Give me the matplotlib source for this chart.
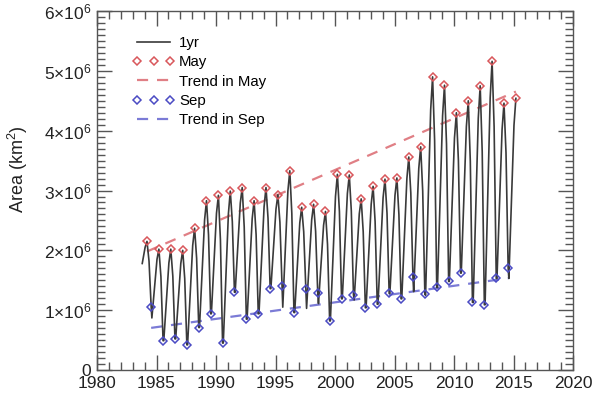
import numpy as np
import matplotlib.pyplot as plt
from matplotlib.ticker import MultipleLocator, FuncFormatter

plt.rcParams['font.family'] = ['Liberation Sans', 'DejaVu Sans']
plt.rcParams['mathtext.fontset'] = 'custom'
plt.rcParams['mathtext.rm'] = 'Liberation Sans'
plt.rcParams['mathtext.it'] = 'Liberation Sans:italic'

# areas in units of 1e6 km^2
may_years = list(range(1984, 2016))
may_area = [2.15, 2.02, 2.02, 2.00, 2.37, 2.83, 2.92, 2.99, 3.05, 2.83,
            3.05, 2.93, 3.33, 2.72, 2.77, 2.65, 3.27, 3.26, 2.86, 3.07,
            3.19, 3.21, 3.56, 3.73, 4.90, 4.76, 4.30, 4.50, 4.75, 5.16,
            4.46, 4.54]
sep_years = list(range(1984, 2015))
sep_area = [1.06, 0.49, 0.52, 0.42, 0.71, 0.94, 0.45, 1.30, 0.85, 0.94,
            1.36, 1.40, 0.96, 1.36, 1.28, 0.82, 1.19, 1.26, 1.04, 1.10,
            1.28, 1.19, 1.55, 1.27, 1.38, 1.48, 1.62, 1.13, 1.09, 1.53,
            1.71]
# lowest point of the monthly curve just after Sep
oct_area = [0.87, 0.49, 0.52, 0.42, 0.71, 0.94, 0.45, 1.30, 0.85, 0.94,
            1.36, 1.05, 0.96, 1.03, 1.11, 0.82, 1.19, 1.17, 1.04, 1.10,
            1.28, 1.19, 1.31, 1.25, 1.38, 1.48, 1.62, 1.13, 1.09, 1.53,
            1.53]
# shoulders of the monthly curve (Mar before the peak, Jul after it)
mar_area = [2.05, 1.85, 1.79, 1.78, 2.08, 2.51, 2.62, 2.61, 2.79, 2.53,
            2.73, 2.69, 2.99, 2.46, 2.51, 2.42, 2.90, 2.95, 2.61, 2.77,
            2.88, 2.92, 3.20, 3.37, 4.35, 4.25, 3.88, 4.07, 4.21, 4.55,
            4.02, 4.09]
jul_area = [1.82, 1.56, 1.57, 1.53, 1.87, 2.26, 2.18, 2.48, 2.39, 2.26,
            2.54, 2.47, 2.62, 2.31, 2.32, 2.10, 2.65, 2.66, 2.31, 2.48,
            2.62, 2.60, 2.96, 2.99, 3.84, 3.78, 3.50, 3.49, 3.65, 4.07,
            3.63]
start_area = 1.78

# where the months fall on the time axis
start_t = 1983.8
mar_off = 0.04
may_off = 0.2
jul_off = 0.37
sep_off = 0.55
oct_off = 0.61

scale = 1e6

t_line = [start_t]
a_line = [start_area]
for i, y in enumerate(may_years):
    t_line += [y + mar_off, y + may_off]
    a_line += [mar_area[i], may_area[i]]
    if i < len(sep_years):
        t_line += [y + jul_off, y + sep_off, y + oct_off]
        a_line += [jul_area[i], sep_area[i], oct_area[i]]
t_line = np.array(t_line)
a_line = np.array(a_line) * scale

t_may = np.array(may_years) + may_off
t_sep = np.array(sep_years) + sep_off
v_may = np.array(may_area) * scale
v_sep = np.array(sep_area) * scale

red = '#d9575c'
blue = '#4b4bc4'

fig = plt.figure(figsize=(6, 3.94), dpi=100)
ax = fig.add_axes([0.1617, 0.0609, 0.955 - 0.1617, 0.972 - 0.0609])

l_yr, = ax.plot(t_line, a_line, color='#3a3a3a', lw=1.2, label='1yr', zorder=3)
l_may, = ax.plot(t_may, v_may, ls='none', marker='D', ms=4.3, mfc='none',
                 mec=red, mew=1.1, label='May', zorder=4)
p = np.polyfit(t_may, v_may, 1)
tt = np.array([t_may[0], t_may[-1]])
l_mt, = ax.plot(tt, np.polyval(p, tt), color='#e07f85', lw=1.6,
                dashes=(5, 4), label='Trend in May', zorder=2)
l_sep, = ax.plot(t_sep, v_sep, ls='none', marker='D', ms=4.3, mfc='none',
                 mec=blue, mew=1.1, label='Sep', zorder=4)
p = np.polyfit(t_sep, v_sep, 1)
tt = np.array([t_sep[0], t_sep[-1]])
l_st, = ax.plot(tt, np.polyval(p, tt), color='#7b7bd6', lw=1.6,
                dashes=(5, 4), label='Trend in Sep', zorder=2)

ax.set_xlim(1980, 2020)
ax.set_ylim(0, 6e6)
ax.xaxis.set_major_locator(MultipleLocator(5))
ax.xaxis.set_minor_locator(MultipleLocator(1))
ax.yaxis.set_major_locator(MultipleLocator(1e6))
ax.yaxis.set_minor_locator(MultipleLocator(1e5))


def fmt(v, pos):
    n = int(round(v / 1e6))
    if n == 0:
        return '0'
    return r'$%d{\times}10^6$' % n


ax.yaxis.set_major_formatter(FuncFormatter(fmt))
ax.tick_params(which='both', direction='in', top=True, right=True,
               colors='#555555', labelcolor='#222222', labelsize=12.5, width=1)
ax.tick_params(which='major', length=11, pad=4)
ax.tick_params(which='minor', length=5.5)
for s in ax.spines.values():
    s.set_color('#555555')
    s.set_linewidth(1)

ax.set_ylabel('Area (km$^2$)', fontsize=13, color='#222222')
ax.yaxis.set_label_coords(-0.14, 0.56)

ax.legend(handles=[l_yr, l_may, l_mt, l_sep, l_st], loc='upper left',
          bbox_to_anchor=(0.075, 0.93), frameon=False, numpoints=3,
          fontsize=10.8, handlelength=2.8, handletextpad=0.3,
          labelspacing=0.35, borderpad=0, borderaxespad=0)

fig.savefig('out.png', dpi=100)
